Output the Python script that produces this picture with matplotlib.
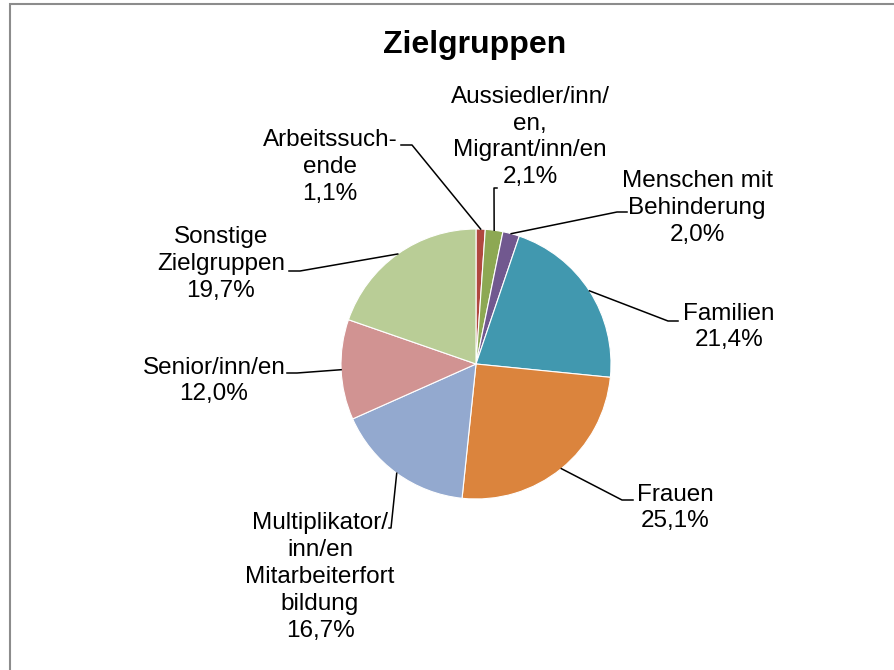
import matplotlib.pyplot as plt
from matplotlib.patches import Rectangle
import numpy as np

# Daten
gruppen = ["Arbeitssuch-\nende", "Aussiedler/inn/\nen,\nMigrant/inn/en", "Menschen mit\nBehinderung",
           "Familien", "Frauen", "Multiplikator/\ninn/en\nMitarbeiterfort\nbildung",
           "Senior/inn/en", "Sonstige\nZielgruppen"]
anteile = [1.1, 2.1, 2.0, 21.4, 25.1, 16.7, 12.0, 19.7]
farben = ["#B0483F", "#8DA853", "#71588F", "#4198AF", "#DB843D", "#93A9CF", "#D19392", "#B9CD96"]

W, H = 894, 670

def py(y):
    # Pixelzeile -> y-Koordinate
    return H - y

# Layout der Beschriftungen (Pixel): Textmitte und Knickpunkte der Führungslinien
text_pos = [(330, 167), (530, 137), (697, 208), (729, 327), (675, 508),
            (320, 577), (214, 381), (221, 264)]
knick = [[(412, 145), (401, 145)],
         [(494, 188), (497, 188)],
         [(617, 212), (627, 212)],
         [(668, 321), (678, 321)],
         [(622, 500), (633, 500)],
         [(391, 528), (389, 528)],
         [(297, 373), (287, 373)],
         [(300, 271), (289, 271)]]

fig = plt.figure(figsize=(8.94, 6.70), dpi=100)
ax = fig.add_axes([0, 0, 1, 1])

wedges, _ = ax.pie(anteile, colors=farben, startangle=90, counterclock=False,
                   center=(476, py(364)), radius=135,
                   wedgeprops=dict(edgecolor='white', linewidth=0.8))
ax.set_xlim(0, W)
ax.set_ylim(0, H)
ax.set_aspect('equal')
ax.axis('off')

for w, name, wert, (tx, ty), pts in zip(wedges, gruppen, anteile, text_pos, knick):
    mitte = np.deg2rad((w.theta1 + w.theta2) / 2)
    x0 = w.center[0] + w.r * np.cos(mitte)
    y0 = w.center[1] + w.r * np.sin(mitte)
    xs = [x0] + [p[0] for p in pts]
    ys = [y0] + [py(p[1]) for p in pts]
    ax.plot(xs, ys, color='black', lw=1.1)
    label = name + "\n" + f"{wert:.1f}".replace('.', ',') + "%"
    ax.text(tx, py(ty), label, ha='center', va='center', multialignment='center',
            fontsize=17.5, family='Liberation Sans', linespacing=1.28)

ax.text(475, py(45), "Zielgruppen", ha='center', va='center', fontsize=23,
        fontweight='bold', family='Liberation Sans')

# Rahmen
fig.add_artist(Rectangle((10 / W, -0.1), 1.2, (H - 4) / H + 0.1, transform=fig.transFigure,
                         fill=False, edgecolor='#8C8C8C', lw=1.5))

fig.savefig('out.png', dpi=100)
